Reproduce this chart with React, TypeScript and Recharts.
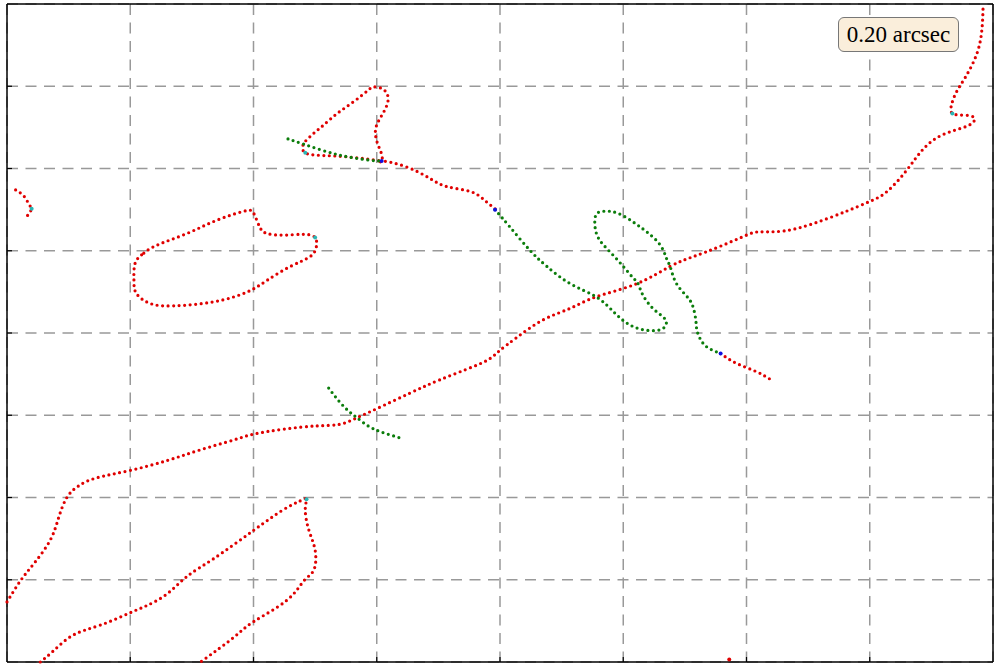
import { CartesianGrid, Scatter, ScatterChart, XAxis, YAxis } from 'recharts';

// grid units: 8 x 8 cells, origin at lower-left corner of the frame
const redMain = [
  [0, 0.73], [0.11, 0.99], [0.22, 1.2], [0.35, 1.48], [0.42, 1.76], [0.49, 2.01], [0.59, 2.15], [0.73, 2.24],
  [1.0, 2.33], [1.3, 2.45], [1.57, 2.58], [1.84, 2.7], [2.0, 2.77], [2.24, 2.83], [2.51, 2.87], [2.7, 2.89],
  [2.84, 2.97], [3.0, 3.08], [3.27, 3.27], [3.51, 3.43], [3.78, 3.59], [3.92, 3.69], [4.0, 3.79], [4.14, 3.95],
  [4.35, 4.16], [4.57, 4.3], [4.78, 4.44], [5.11, 4.6], [5.38, 4.81], [5.57, 4.93], [5.78, 5.05], [6.0, 5.19],
  [6.11, 5.23], [6.3, 5.24], [6.54, 5.33], [6.81, 5.48], [7.0, 5.6], [7.14, 5.72], [7.3, 5.98], [7.43, 6.23],
  [7.59, 6.41], [7.78, 6.51], [7.85, 6.59], [7.82, 6.64], [7.73, 6.65], [7.67, 6.67], [7.66, 6.75], [7.7, 6.92],
  [7.78, 7.12], [7.87, 7.4], [7.91, 7.69], [7.92, 7.99],
];

const redLowerArc = [
  [0.27, 0], [0.38, 0.14], [0.54, 0.33], [0.76, 0.45], [1.0, 0.6], [1.14, 0.69], [1.3, 0.83], [1.46, 1.04],
  [1.68, 1.26], [2.0, 1.6], [2.24, 1.85], [2.38, 1.96], [2.43, 1.98], [2.42, 1.85], [2.45, 1.6], [2.5, 1.36],
  [2.49, 1.12], [2.41, 0.99], [2.27, 0.75], [2.0, 0.49], [1.84, 0.3], [1.57, 0],
];

const redLeftLoop = [
  [1.11, 4.97], [1.22, 5.07], [1.46, 5.21], [1.7, 5.37], [1.92, 5.48], [2.0, 5.46], [2.05, 5.29], [2.11, 5.21],
  [2.24, 5.19], [2.41, 5.2], [2.5, 5.16], [2.51, 5.05], [2.46, 4.93], [2.3, 4.81], [2.11, 4.64], [1.95, 4.5],
  [1.68, 4.38], [1.35, 4.33], [1.16, 4.36], [1.05, 4.48], [1.03, 4.64], [1.04, 4.85], [1.11, 4.97],
];

const redEdgeArc = [[0.07, 5.74], [0.14, 5.66], [0.18, 5.56], [0.2, 5.51], [0.18, 5.46], [0.16, 5.41]];

const redUpperLoop = [
  [3.96, 5.51], [3.87, 5.62], [3.76, 5.72], [3.57, 5.78], [3.43, 5.88], [3.24, 6.02], [3.05, 6.09], [3.04, 6.08],
  [3.04, 6.17], [3.01, 6.29], [2.99, 6.41], [3.0, 6.53], [3.05, 6.67], [3.09, 6.81], [3.08, 6.92], [3.03, 6.98],
  [2.97, 6.99], [2.92, 6.94], [2.81, 6.81], [2.68, 6.67], [2.57, 6.53], [2.49, 6.43], [2.42, 6.33], [2.4, 6.27],
  [2.42, 6.19], [2.54, 6.16], [2.68, 6.15], [2.84, 6.13], [3.0, 6.1], [3.04, 6.08],
];

const redTail = [[5.79, 3.75], [5.92, 3.63], [6.08, 3.53], [6.2, 3.43]];

const redBottomDot = [[5.86, 0.03]];

const greenUpper = [[2.28, 6.36], [2.4, 6.3], [2.54, 6.23], [2.68, 6.17], [2.81, 6.13], [2.95, 6.1], [3.04, 6.09]];

const greenMain = [
  [3.96, 5.5], [4.08, 5.29], [4.24, 5.01], [4.38, 4.81], [4.57, 4.6], [4.78, 4.44], [4.92, 4.26], [5.03, 4.12],
  [5.16, 4.04], [5.3, 4.04], [5.35, 4.12], [5.32, 4.2], [5.24, 4.3], [5.16, 4.46], [5.12, 4.6], [5.08, 4.67],
  [5.0, 4.81], [4.89, 4.99], [4.8, 5.15], [4.77, 5.31], [4.78, 5.44], [4.84, 5.48], [4.95, 5.46], [5.08, 5.35],
  [5.19, 5.23], [5.3, 5.07], [5.35, 4.91], [5.38, 4.81], [5.41, 4.67], [5.46, 4.54], [5.53, 4.42], [5.57, 4.3],
  [5.59, 4.14], [5.6, 4.02], [5.64, 3.89], [5.7, 3.81], [5.79, 3.75],
];

const greenCross = [[2.61, 3.33], [2.7, 3.16], [2.78, 3.04], [2.84, 2.97], [2.92, 2.88], [3.03, 2.8], [3.2, 2.72]];

const bluePoints = [[3.04, 6.09], [3.96, 5.5], [5.79, 3.75]];

const cyanPoints = [[0.2, 5.51], [2.42, 6.19], [2.5, 5.16], [2.43, 1.98], [7.67, 6.67]];

const gridTicks = [1, 2, 3, 4, 5, 6, 7];

const RED = '#e00000';
const GREEN = '#0b7d0b';

const toPts = (pairs: number[][]) => pairs.map(([x, y]) => ({ x, y }));

const dotted = (color: string) => ({
  stroke: color,
  strokeWidth: 3.2,
  strokeDasharray: '0 5.5',
  strokeLinecap: 'round',
  fill: 'none',
});

const noDot = () => <g />;

const smallDot = (color: string) => (props: any) => (
  <circle cx={props.cx} cy={props.cy} r={2} fill={color} />
);

const curves: { data: number[][]; color: string }[] = [
  { data: redMain, color: RED },
  { data: redLowerArc, color: RED },
  { data: redLeftLoop, color: RED },
  { data: redEdgeArc, color: RED },
  { data: redUpperLoop, color: RED },
  { data: redTail, color: RED },
  { data: greenUpper, color: GREEN },
  { data: greenMain, color: GREEN },
  { data: greenCross, color: GREEN },
];

const axisLine = { stroke: '#000', strokeWidth: 1.5 };
const tickLine = { stroke: '#000', strokeWidth: 1.2 };

export default function App() {
  return (
    <div style={{ position: 'absolute', left: 0, top: 0, width: 1000, height: 667, background: '#fff' }}>
      <ScatterChart width={1000} height={667} margin={{ top: 4, right: 7, bottom: 5, left: 7 }}>
        <CartesianGrid stroke="#999" strokeWidth={1.5} strokeDasharray="11 7.5" />
        <XAxis type="number" dataKey="x" domain={[0, 8]} ticks={gridTicks} mirror tick={noDot}
          tickSize={5} axisLine={axisLine} tickLine={tickLine} />
        <XAxis xAxisId="top" orientation="top" type="number" dataKey="x" domain={[0, 8]} ticks={gridTicks}
          mirror tick={noDot} tickSize={5} axisLine={axisLine} tickLine={tickLine} />
        <YAxis type="number" dataKey="y" domain={[0, 8]} ticks={gridTicks} mirror tick={noDot}
          tickSize={5} axisLine={axisLine} tickLine={tickLine} />
        <YAxis yAxisId="right" orientation="right" type="number" dataKey="y" domain={[0, 8]} ticks={gridTicks}
          mirror tick={noDot} tickSize={5} axisLine={axisLine} tickLine={tickLine} />
        {curves.map((c, i) => (
          <Scatter key={i} data={toPts(c.data)} fill={c.color} line={dotted(c.color)}
            lineJointType="natural" shape={noDot} isAnimationActive={false} legendType="none" />
        ))}
        <Scatter data={toPts(redBottomDot)} shape={smallDot(RED)} isAnimationActive={false} legendType="none" />
        <Scatter data={toPts(bluePoints)} shape={smallDot('#1010e0')} isAnimationActive={false} legendType="none" />
        <Scatter data={toPts(cyanPoints)} shape={smallDot('#2ab5b5')} isAnimationActive={false} legendType="none" />
      </ScatterChart>
      <div
        style={{
          position: 'absolute', left: 838, top: 17, width: 121, height: 35, boxSizing: 'border-box',
          background: '#faeedb', border: '1.3px solid #777', borderRadius: 6,
          fontFamily: '"Liberation Serif", "DejaVu Serif", serif', fontSize: 23, lineHeight: '33px',
          textAlign: 'center', color: '#000',
        }}
      >
        0.20 arcsec
      </div>
    </div>
  );
}
